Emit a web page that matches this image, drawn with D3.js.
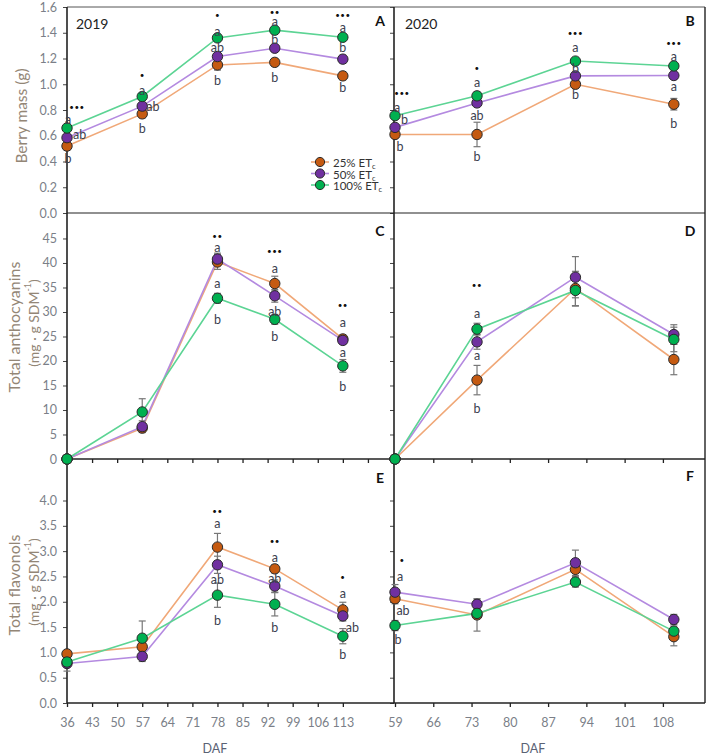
<!DOCTYPE html>
<html><head><meta charset="utf-8">
<script src="https://cdn.jsdelivr.net/npm/d3@7"></script>
<style>
body{margin:0;background:#fff;}
text{font-family:Lato,"Open Sans",sans-serif;}
</style></head>
<body><svg id="c" width="708" height="755"></svg>
<script>
// ---------- DATA ----------
const days2019 = [36, 57, 78, 94, 113];
const days2020 = [59, 74, 92, 110];
const seriesNames = ["25% ET", "50% ET", "100% ET"];

// Berry mass (g)
const mass2019_25 = [0.52, 0.77, 1.15, 1.17, 1.065];
const mass2019_50 = [0.585, 0.83, 1.215, 1.28, 1.195];
const mass2019_100 = [0.66, 0.905, 1.36, 1.42, 1.365];
const massErr2019_25 = [0.03, 0.03, 0.04, 0.03, 0.03];
const massErr2019_50 = [0.02, 0.02, 0.03, 0.02, 0.03];
const massErr2019_100 = [0.02, 0.02, 0.02, 0.02, 0.02];
const mass2020_25 = [0.61, 0.61, 1.0, 0.845];
const mass2020_50 = [0.665, 0.855, 1.065, 1.068];
const mass2020_100 = [0.756, 0.91, 1.18, 1.142];
const massErr2020_25 = [0.02, 0.095, 0.03, 0.045];
const massErr2020_50 = [0.02, 0.02, 0.02, 0.02];
const massErr2020_100 = [0.02, 0.03, 0.02, 0.02];

// Total anthocyanins
const anth2019_25 = [0, 6.3, 40.2, 35.8, 24.5];
const anth2019_50 = [0, 6.6, 40.8, 33.3, 24.2];
const anth2019_100 = [0, 9.6, 32.8, 28.5, 19.0];
const anthErr2019_25 = [0, 0.5, 1.5, 1.5, 0.8];
const anthErr2019_50 = [0, 1.2, 1.2, 1.3, 0.8];
const anthErr2019_100 = [0, 2.7, 1.0, 1.0, 1.3];
const anth2020_25 = [0, 16.1, 34.8, 20.3];
const anth2020_50 = [0, 23.9, 37.1, 25.4];
const anth2020_100 = [0, 26.5, 34.4, 24.4];
const anthErr2020_25 = [0, 3.0, 3.5, 3.1];
const anthErr2020_50 = [0, 1.5, 4.2, 2.0];
const anthErr2020_100 = [0, 1.2, 3.2, 2.5];

// Total flavonols
const flav2019_25 = [0.97, 1.11, 3.08, 2.65, 1.84];
const flav2019_50 = [0.78, 0.92, 2.73, 2.31, 1.72];
const flav2019_100 = [0.81, 1.28, 2.13, 1.95, 1.32];
const flavErr2019_25 = [0.06, 0.08, 0.27, 0.08, 0.15];
const flavErr2019_50 = [0.15, 0.1, 0.17, 0.12, 0.1];
const flavErr2019_100 = [0.06, 0.34, 0.24, 0.23, 0.15];
const flav2020_25 = [2.06, 1.74, 2.64, 1.31];
const flav2020_50 = [2.19, 1.95, 2.77, 1.65];
const flav2020_100 = [1.53, 1.77, 2.39, 1.42];
const flavErr2020_25 = [0.1, 0.32, 0.15, 0.18];
const flavErr2020_50 = [0.15, 0.1, 0.25, 0.1];
const flavErr2020_100 = [0.1, 0.1, 0.1, 0.1];

// axis ticks
const xTicks2019 = [36, 43, 50, 57, 64, 71, 78, 85, 92, 99, 106, 113];
const xTicks2020 = [59, 66, 73, 80, 87, 94, 101, 108];
const massTicks = [0, 0.2, 0.4, 0.6, 0.8, 1.0, 1.2, 1.4, 1.6];
const anthTicks = [0, 5, 10, 15, 20, 25, 30, 35, 40, 45];
const flavTicks = [0, 0.5, 1.0, 1.5, 2.0, 2.5, 3.0, 3.5, 4.0];

// significance annotations: [day, value, text, dx, anchor]
const annA = [[36,0.823,"•••",10,"middle"],[36,0.73,"a",1,"middle"],[36,0.606,"ab",6,"start"],[36,0.427,"b",1,"middle"],
  [57,1.072,"•",0,"middle"],[57,0.955,"a",0,"middle"],[57,0.831,"ab",4,"start"],[57,0.66,"b",0,"middle"],
  [78,1.535,"•",0,"middle"],[78,1.406,"a",0,"middle"],[78,1.289,"ab",0,"middle"],[78,1.033,"b",0,"middle"],
  [94,1.565,"••",0,"middle"],[94,1.485,"a",0,"middle"],[94,1.344,"b",0,"middle"],[94,1.056,"b",0,"middle"],
  [113,1.535,"•••",0,"middle"],[113,1.437,"a",0,"middle"],[113,1.282,"b",0,"middle"],[113,0.971,"b",0,"middle"]];
const annB = [[59,0.934,"•••",7,"middle"],[59,0.823,"a",2,"middle"],[59,0.73,"b",6,"start"],[59,0.513,"b",5,"middle"],
  [74,1.129,"•",0,"middle"],[74,1.012,"a",0,"middle"],[74,0.761,"ab",0,"middle"],[74,0.435,"b",0,"middle"],
  [92,1.398,"•••",0,"middle"],[92,1.282,"a",0,"middle"],[92,1.126,"b",0,"middle"],[92,0.924,"b",0,"middle"],
  [110,1.32,"•••",0,"middle"],[110,1.212,"a",0,"middle"],[110,0.986,"a",0,"middle"],[110,0.699,"b",0,"middle"]];
const annC = [[78,45.6,"••",0,"middle"],[78,43.2,"a",0,"middle"],[78,35.9,"a",0,"middle"],[78,28.4,"b",0,"middle"],
  [94,42.4,"•••",0,"middle"],[94,38.9,"a",0,"middle"],[94,30.1,"ab",0,"middle"],[94,24.9,"b",0,"middle"],
  [113,31.4,"••",0,"middle"],[113,27.8,"a",0,"middle"],[113,21.7,"a",0,"middle"],[113,14.8,"b",0,"middle"]];
const annD = [[74,35.5,"••",0,"middle"],[74,29.6,"a",0,"middle"],[74,21.2,"a",0,"middle"],[74,10.4,"b",0,"middle"]];
const annE = [[78,3.80,"••",0,"middle"],[78,3.54,"a",0,"middle"],[78,2.43,"ab",0,"middle"],[78,1.63,"b",0,"middle"],
  [94,3.21,"••",0,"middle"],[94,2.88,"a",0,"middle"],[94,2.45,"ab",0,"middle"],[94,1.50,"b",0,"middle"],
  [113,2.48,"•",0,"middle"],[113,2.17,"a",0,"middle"],[113,1.50,"ab",3,"start"],[113,0.95,"b",0,"middle"]];
const annF = [[59,2.83,"•",7,"middle"],[59,2.50,"a",5,"middle"],[59,1.82,"ab",8,"middle"],[59,1.26,"b",3,"middle"]];

// ---------- LAYOUT ----------
const fills = ["#c55a11", "#7030a0", "#00b050"];
const lineCols = ["#f0a878", "#b48ae0", "#5cd494"];
const svg = d3.select("#c");
const L0 = 67, L1 = 394, R1 = 705;
const rows = [[7, 213], [213, 459], [459, 703]];

const x19 = d3.scaleLinear().domain([36, 127]).range([L0, L1 - 1]);
const x20 = d3.scaleLinear().domain([59, 115.7]).range([L1 + 1, R1]);
const yMass = d3.scaleLinear().domain([0, 1.6]).range([rows[0][1], rows[0][0]]);
const yAnth = d3.scaleLinear().domain([0, 50.2]).range([rows[1][1], rows[1][0]]);
const yFlav = d3.scaleLinear().domain([0, 4.82]).range([rows[2][1], rows[2][0]]);

const tickCol = "#7b7f88";
const labCol = "#3c4150";

// y axes
function yAxis(scale, ticks, xpos, labels, fmt) {
  const g = svg.append("g").attr("transform", `translate(${xpos},0)`)
    .call(d3.axisLeft(scale).tickValues(ticks).tickSize(4).tickPadding(6)
      .tickFormat(labels ? d3.format(fmt) : () => ""));
  g.select(".domain").remove();
  g.selectAll("line").attr("stroke", "#444");
  g.selectAll("text").attr("fill", tickCol).style("font-size", "12.5px");
}
yAxis(yMass, massTicks, L0, true, ".1f");
yAxis(yAnth, anthTicks, L0, true, "d");
yAxis(yFlav, flavTicks, L0, true, ".1f");
yAxis(yMass, massTicks, L1, false);
yAxis(yAnth, anthTicks, L1, false);
yAxis(yFlav, flavTicks, L1, false);

// x axes (ticks down)
function xAxis(scale, ticks, ypos, labels) {
  const g = svg.append("g").attr("transform", `translate(0,${ypos})`)
    .call(d3.axisBottom(scale).tickValues(ticks).tickSize(4).tickPadding(11)
      .tickFormat(labels ? d3.format("d") : () => ""));
  g.select(".domain").remove();
  g.selectAll("line").attr("stroke", "#222").attr("stroke-width", 1.3);
  g.selectAll("text").attr("fill", tickCol).style("font-size", "12.5px");
}
xAxis(x19, xTicks2019.concat([120]), rows[1][1], false);
xAxis(x20, xTicks2020, rows[1][1], false);
xAxis(x19, xTicks2019, rows[2][1], true);
xAxis(x20, xTicks2020, rows[2][1], true);

// frame lines
const fr = svg.append("g").attr("stroke", "#222").attr("fill", "none");
fr.append("line").attr("x1", L0).attr("x2", R1).attr("y1", rows[0][0]).attr("y2", rows[0][0]).attr("stroke", "#555");
fr.append("line").attr("x1", L0).attr("x2", R1).attr("y1", rows[0][1]).attr("y2", rows[0][1]).attr("stroke-width", 1.2);
fr.append("line").attr("x1", L0).attr("x2", R1).attr("y1", rows[1][1]).attr("y2", rows[1][1]).attr("stroke-width", 1.6);
fr.append("line").attr("x1", L0).attr("x2", R1).attr("y1", rows[2][1]).attr("y2", rows[2][1]).attr("stroke-width", 1.6);
fr.append("line").attr("x1", L0).attr("x2", L0).attr("y1", rows[0][0]).attr("y2", rows[2][1]).attr("stroke-width", 1.6);
fr.append("line").attr("x1", L1).attr("x2", L1).attr("y1", rows[0][0]).attr("y2", rows[2][1]).attr("stroke-width", 1.6);
fr.append("line").attr("x1", R1).attr("x2", R1).attr("y1", rows[0][0]).attr("y2", rows[2][1]).attr("stroke-width", 1.4);

// ---------- SERIES ----------
function drawPanel(xs, ys, days, vals, errs) {
  const g = svg.append("g");
  vals.forEach((v, i) => {
    const pts = days.map((d, j) => [d, v[j]]);
    g.append("path").datum(pts).attr("fill", "none").attr("stroke", lineCols[i]).attr("stroke-width", 1.6)
      .attr("d", d3.line().x(p => xs(p[0])).y(p => ys(p[1])));
  });
  vals.forEach((v, i) => {
    days.forEach((d, j) => {
      const e = errs[i][j];
      if (e > 0) {
        const cx = xs(d);
        g.append("line").attr("x1", cx).attr("x2", cx).attr("y1", ys(v[j] - e)).attr("y2", ys(v[j] + e)).attr("stroke", "#777").attr("stroke-width", 1.2);
        [v[j] - e, v[j] + e].forEach(t => g.append("line").attr("x1", cx - 3.5).attr("x2", cx + 3.5).attr("y1", ys(t)).attr("y2", ys(t)).attr("stroke", "#777").attr("stroke-width", 1.2));
      }
    });
  });
  vals.forEach((v, i) => {
    g.selectAll(null).data(days.map((d, j) => [d, v[j]])).enter().append("circle")
      .attr("cx", p => xs(p[0])).attr("cy", p => ys(p[1])).attr("r", 5.2)
      .attr("fill", fills[i]).attr("stroke", "#2a2a2a").attr("stroke-width", 1);
  });
}
drawPanel(x19, yMass, days2019, [mass2019_25, mass2019_50, mass2019_100], [massErr2019_25, massErr2019_50, massErr2019_100]);
drawPanel(x20, yMass, days2020, [mass2020_25, mass2020_50, mass2020_100], [massErr2020_25, massErr2020_50, massErr2020_100]);
drawPanel(x19, yAnth, days2019, [anth2019_25, anth2019_50, anth2019_100], [anthErr2019_25, anthErr2019_50, anthErr2019_100]);
drawPanel(x20, yAnth, days2020, [anth2020_25, anth2020_50, anth2020_100], [anthErr2020_25, anthErr2020_50, anthErr2020_100]);
drawPanel(x19, yFlav, days2019, [flav2019_25, flav2019_50, flav2019_100], [flavErr2019_25, flavErr2019_50, flavErr2019_100]);
drawPanel(x20, yFlav, days2020, [flav2020_25, flav2020_50, flav2020_100], [flavErr2020_25, flavErr2020_50, flavErr2020_100]);

// annotations
function annotate(xs, ys, list) {
  list.forEach(a => {
    const isStar = a[2].indexOf("•") >= 0;
    svg.append("text").attr("x", xs(a[0]) + a[3]).attr("y", ys(a[1]))
      .attr("text-anchor", a[4]).attr("dominant-baseline", "central")
      .attr("fill", isStar ? "#111" : labCol)
      .style("font-size", isStar ? "8px" : "12.5px")
      .style("letter-spacing", isStar ? "0.5px" : "0")
      .text(a[2]);
  });
}
annotate(x19, yMass, annA);
annotate(x20, yMass, annB);
annotate(x19, yAnth, annC);
annotate(x20, yAnth, annD);
annotate(x19, yFlav, annE);
annotate(x20, yFlav, annF);

// panel letters
const letters = [["A", 380, 20], ["B", 690, 20], ["C", 380, 230], ["D", 690, 230], ["E", 380, 477], ["F", 690, 475]];
letters.forEach(l => svg.append("text").attr("x", l[1]).attr("y", l[2]).attr("text-anchor", "middle")
  .attr("dominant-baseline", "central").style("font-size", "14px").style("font-weight", "bold").attr("fill", "#111").text(l[0]));

// year labels
[["2019", 76], ["2020", 405]].forEach(t => svg.append("text").attr("x", t[1]).attr("y", 23)
  .attr("dominant-baseline", "central").style("font-size", "14px").attr("fill", "#222").text(t[0]));

// axis titles
const titleCol = "#938676";
function vTitle(x, y, size, build) {
  const t = svg.append("text").attr("transform", `translate(${x},${y}) rotate(-90)`).attr("text-anchor", "middle")
    .attr("dominant-baseline", "central").style("font-size", size + "px").attr("fill", titleCol);
  build(t);
}
vTitle(21, 116, 15.5, t => t.text("Berry mass (g)"));
vTitle(13, 327, 16, t => t.text("Total anthocyanins"));
vTitle(33, 323, 14, t => { t.append("tspan").text("(mg · g SDM"); t.append("tspan").attr("baseline-shift", "super").style("font-size", "9px").text("-1"); t.append("tspan").text(")"); });
vTitle(13, 585, 16, t => t.text("Total flavonols"));
vTitle(33, 582, 14, t => { t.append("tspan").text("(mg · g SDM"); t.append("tspan").attr("baseline-shift", "super").style("font-size", "9px").text("-1"); t.append("tspan").text(")"); });

[[215], [533]].forEach(p => svg.append("text").attr("x", p[0]).attr("y", 748).attr("text-anchor", "middle")
  .attr("dominant-baseline", "central").style("font-size", "12.5px").attr("fill", "#5a6274").text("DAF"));

// legend
const legY = [162, 173.5, 185];
seriesNames.forEach((n, i) => {
  const g = svg.append("g");
  g.append("line").attr("x1", 311).attr("x2", 329).attr("y1", legY[i]).attr("y2", legY[i]).attr("stroke", lineCols[i]).attr("stroke-width", 1.6);
  g.append("circle").attr("cx", 320).attr("cy", legY[i]).attr("r", 4.6).attr("fill", fills[i]).attr("stroke", "#2a2a2a");
  const t = g.append("text").attr("x", 333).attr("y", legY[i]).attr("dominant-baseline", "central")
    .style("font-size", "11.5px").attr("fill", "#333");
  t.append("tspan").text(n);
  t.append("tspan").attr("baseline-shift", "sub").style("font-size", "7.5px").text("c");
});
</script></body></html>
